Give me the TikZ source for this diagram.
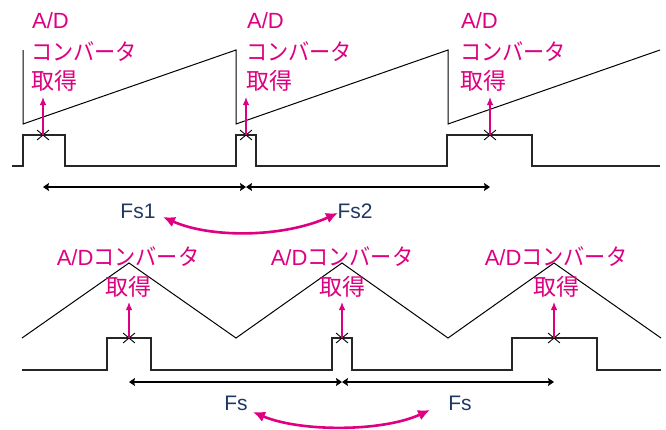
\documentclass[tikz,border=0pt]{standalone}
\usepackage{fontspec}
\setmainfont{Liberation Sans}
\newfontfamily\jp{Noto Sans CJK JP}
\newfontfamily\jpk[FakeStretch=0.92]{Noto Sans CJK JP}
\usetikzlibrary{arrows.meta,shapes.misc}
\definecolor{mag}{RGB}{222,0,128}
\definecolor{navy}{RGB}{31,56,100}
\begin{document}
\begin{tikzpicture}[x=1pt,y=-1pt,
  lbl/.style={text=mag, font=\fontsize{22}{26}\selectfont, inner sep=0pt},
  kana/.style={text=mag, font=\fontsize{23}{27}\selectfont\jpk, inner sep=0pt},
  kanji/.style={text=mag, font=\fontsize{23}{27}\selectfont\jp, inner sep=0pt},
  fslbl/.style={text=navy, font=\fontsize{21}{25}\selectfont, inner sep=0pt, anchor=base},
  wave/.style={black, line width=1pt, line join=miter},
  pulse/.style={black!85, line width=1.1pt, line join=miter},
  uparr/.style={mag, line width=1.2pt, -{Latex[length=8pt,width=6.5pt]}},
  dimarr/.style={black, line width=1.1pt, {Stealth[length=6pt,width=8pt,inset=1pt]}-{Stealth[length=6pt,width=8pt,inset=1pt]}},
  swaparr/.style={mag, line width=2.6pt, {Latex[length=12pt,width=11pt]}-{Latex[length=12pt,width=11pt]}},
  xmark/.style={cross out, draw=black, line width=0.9pt, minimum width=11pt, minimum height=9pt, inner sep=0pt}
]
\useasboundingbox (0,0) rectangle (666,429);

% ---------- top: sawtooth ----------
\draw[wave] (23,50) -- (23,124) -- (236,50) -- (236,124) -- (448,50) -- (448,124) -- (660,50);
\draw[pulse] (12,166) -- (23,166) -- (23,135) -- (65,135) -- (65,166) -- (236,166) -- (236,135)
  -- (256,135) -- (256,166) -- (447,166) -- (447,135) -- (532,135) -- (532,166) -- (660,166);

\node[xmark] (xa1) at (43,135) {};
\node[xmark] (xa2) at (246,135) {};
\node[xmark] (xa3) at (490,135) {};
\coordinate (ta1) at (43,97);
\coordinate (ta2) at (246,97);
\coordinate (ta3) at (490,97);
\draw[uparr] (xa1.center) -- (ta1);
\draw[uparr] (xa2.center) -- (ta2);
\draw[uparr] (xa3.center) -- (ta3);

\node[lbl, anchor=base west] (la1) at (32,28) {A/D};
\node[kana, anchor=base west] (lb1) at (31,60) {コンバータ};
\node[kanji, anchor=base west] (lc1) at (31,89) {取得};
\node[lbl, anchor=base west] (la2) at (247,28) {A/D};
\node[kana, anchor=base west] (lb2) at (246,60) {コンバータ};
\node[kanji, anchor=base west] (lc2) at (246,89) {取得};
\node[lbl, anchor=base west] (la3) at (461,28) {A/D};
\node[kana, anchor=base west] (lb3) at (460,60) {コンバータ};
\node[kanji, anchor=base west] (lc3) at (460,89) {取得};

\coordinate (da1) at (43,187);
\coordinate (da2) at (246,187);
\coordinate (da3) at (490,187);
\draw[dimarr] (da1) -- (da2);
\draw[dimarr] (da2) -- (da3);

\node[fslbl] (fs1) at (138,218) {Fs1};
\node[fslbl] (fs2) at (355,218) {Fs2};
\coordinate (sa1) at (163,217);
\coordinate (sa2) at (338,213);
\draw[swaparr] (sa1) .. controls (210,238) and (282,238) .. (sa2);

% ---------- bottom: triangle ----------
\draw[wave] (22,338) -- (129,263) -- (236,338) -- (342,263) -- (448,338) -- (554,263) -- (661,338);
\draw[pulse] (22,370) -- (107,370) -- (107,338) -- (151,338) -- (151,370) -- (332,370) -- (332,338)
  -- (352,338) -- (352,370) -- (512,370) -- (512,338) -- (597,338) -- (597,370) -- (661,370);

\node[xmark] (xb1) at (129,338) {};
\node[xmark] (xb2) at (342,338) {};
\node[xmark] (xb3) at (554,338) {};
\coordinate (tb1) at (129,302);
\coordinate (tb2) at (342,302);
\coordinate (tb3) at (554,302);
\draw[uparr] (xb1.center) -- (tb1);
\draw[uparr] (xb2.center) -- (tb2);
\draw[uparr] (xb3.center) -- (tb3);

\node[kana, anchor=base] (ma1) at (128,265) {\fontsize{22}{26}\rmfamily A/D\jpk\fontsize{23}{27}\selectfont コンバータ};
\node[kanji, anchor=base] (mb1) at (128,295) {取得};
\node[kana, anchor=base] (ma2) at (342,265) {\fontsize{22}{26}\rmfamily A/D\jpk\fontsize{23}{27}\selectfont コンバータ};
\node[kanji, anchor=base] (mb2) at (342,295) {取得};
\node[kana, anchor=base] (ma3) at (556,265) {\fontsize{22}{26}\rmfamily A/D\jpk\fontsize{23}{27}\selectfont コンバータ};
\node[kanji, anchor=base] (mb3) at (556,295) {取得};

\coordinate (db1) at (129,382);
\coordinate (db2) at (342,382);
\coordinate (db3) at (554,382);
\draw[dimarr] (db1) -- (db2);
\draw[dimarr] (db2) -- (db3);

\node[fslbl] (fs3) at (236,410) {Fs};
\node[fslbl] (fs4) at (460,410) {Fs};
\coordinate (sb1) at (253,412);
\coordinate (sb2) at (430,410);
\draw[swaparr] (sb1) .. controls (300,432) and (382,432) .. (sb2);
\end{tikzpicture}
\end{document}
